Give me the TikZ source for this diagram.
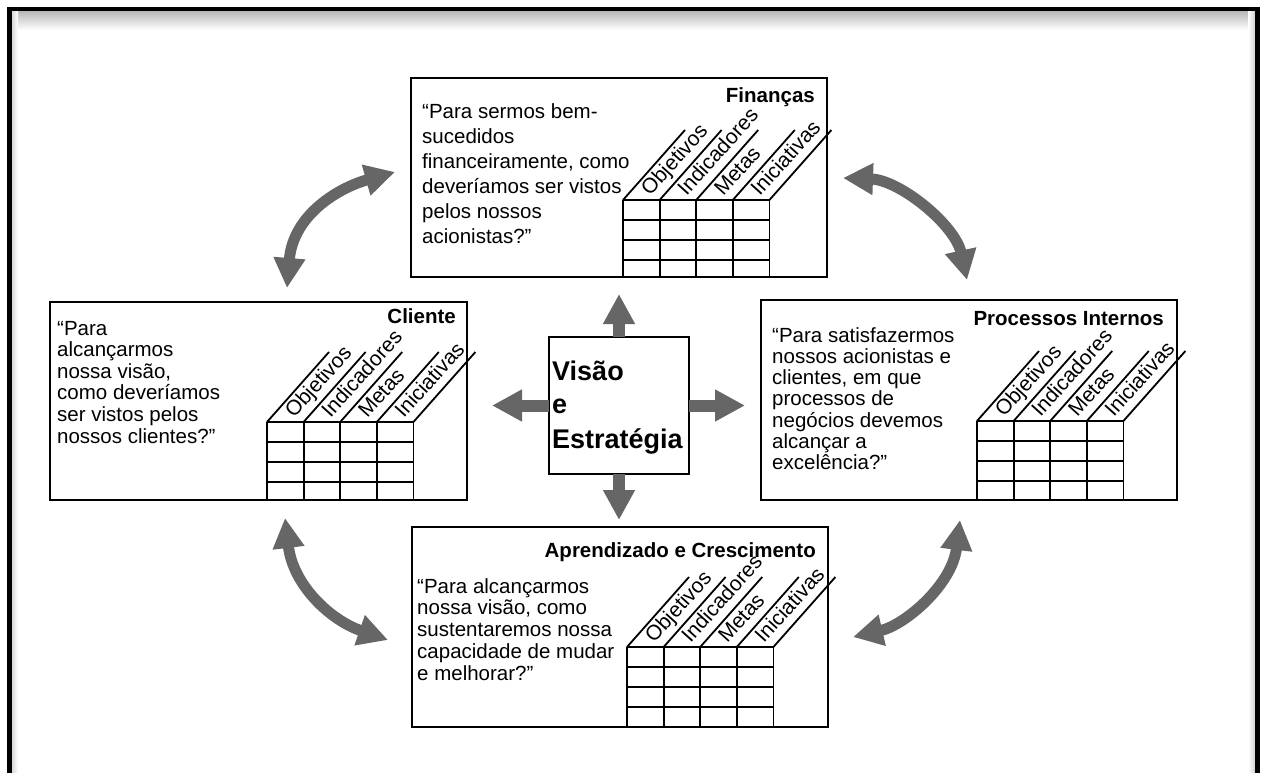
\documentclass[tikz,border=0pt]{standalone}
\usepackage{fontspec}
\setmainfont{Liberation Sans}
\usetikzlibrary{arrows.meta}
\newcommand{\bsctext}[5]{%
  \foreach \ln [count=\i from 0] in {#5} {
    \node[bscbody] (#1-\i) at (#2, {#3+\i*#4}) {\ln};
  }%
}
\newcommand{\bscgrid}[4]{% name, x0, y0, ybottom
  \foreach \k in {0,...,4} {
    \draw[bscgridline] ({#2+\k*36.6},#3) -- ({#2+\k*36.6},#4);
    \draw[bscgridline] ({#2+\k*36.6},#3) -- ++(62,-70);
  }
  \foreach \r in {0,1,2,3} {
    \draw[bscgridline] (#2,{#3+\r*20}) -- ({#2+4*36.6},{#3+\r*20});
  }
  \foreach \lab [count=\k from 0] in {Objetivos,Indicadores,Metas,Iniciativas} {
    \node[bsccol] (#1-col\k) at ({#2+\k*36.6+27},{#3-3}) {\lab};
  }%
}
\begin{document}
\begin{tikzpicture}[x=1pt,y=-1pt,
  bscbox/.style={draw=black, line width=1.3pt, fill=white, inner sep=0pt, outer sep=0pt},
  bscgridline/.style={draw=black, line width=1.8pt},
  bscbody/.style={font=\fontsize{20.5}{24}\selectfont, inner sep=0pt, anchor=base west, text=black},
  bsctitle/.style={font=\fontsize{20.5}{24}\selectfont\bfseries, inner sep=0pt, anchor=base east},
  bsccol/.style={font=\fontsize{21}{24}\selectfont, inner sep=0pt, anchor=base west, rotate=48},
  bsccenter/.style={font=\fontsize{27}{30}\selectfont\bfseries, inner sep=0pt, anchor=base west},
  bsccurvy/.style={line width=11pt, draw=black!60, {Triangle[width=30pt,length=30pt]}-{Triangle[width=30pt,length=30pt]}},
  bscstraight/.style={line width=12pt, draw=black!60, -{Triangle[width=30pt,length=30pt]}},
]
\useasboundingbox (0,0) rectangle (1261,773);
\fill[white] (0,0) rectangle (1261,773);
% frame shadow
\shade[top color=black!28, bottom color=white] (11,11) rectangle (1255,30);
\shade[left color=black!18, right color=white] (11,11) rectangle (18,773);
\shade[left color=white, right color=black!18] (1248,11) rectangle (1255,773);
% outer frame
\draw[line width=4.5pt] (9.25,773) -- (9.25,9.25) -- (1257.5,9.25) -- (1257.5,773);

% boxes
\node[bscbox, minimum width=416pt, minimum height=199pt] (fin) at (619,177.5) {};
\node[bscbox, minimum width=417pt, minimum height=198pt] (cli) at (258.5,401) {};
\node[bscbox, minimum width=416pt, minimum height=200pt] (pro) at (969,400) {};
\node[bscbox, minimum width=416pt, minimum height=200pt] (apr) at (620,627) {};
\node[bscbox, minimum width=140pt, minimum height=137pt] (vis) at (619,405.5) {};

% titles
\node[bsctitle] (fin-t) at (815,103) {Finanças};
\node[bsctitle] (cli-t) at (456,323) {Cliente};
\node[bsctitle] (pro-t) at (1164,325) {Processos Internos};
\node[bsctitle] (apr-t) at (816,557) {Aprendizado e Crescimento};

% body texts
\bsctext{fintx}{422}{119}{24.8}{“Para sermos bem-, sucedidos, {financeiramente, como}, deveríamos ser vistos, pelos nossos, acionistas?”}
\bsctext{clitx}{57}{335}{21.6}{“Para, alcançarmos, {nossa visão,}, como deveríamos, ser vistos pelos, nossos clientes?”}
\bsctext{protx}{772}{342}{21.3}{“Para satisfazermos, nossos acionistas e, {clientes, em que}, processos de, negócios devemos, alcançar a, excelência?”}
\bsctext{aprtx}{417}{593}{21.8}{“Para alcançarmos, {nossa visão, como}, sustentaremos nossa, capacidade de mudar, e melhorar?”}

% grids
\bscgrid{fing}{623}{200}{277}
\bscgrid{clig}{267}{422}{500}
\bscgrid{prog}{977}{421}{500}
\bscgrid{aprg}{627}{647}{727}

% center text
\node[bsccenter] (vis-1) at (552,380) {Visão};
\node[bsccenter] (vis-2) at (552,413) {e};
\node[bsccenter] (vis-3) at (552,448) {Estratégia};

% straight arrows
\coordinate (upTip) at (619,294);
\coordinate (downTip) at (619,520);
\coordinate (leftTip) at (492,405.5);
\coordinate (rightTip) at (745,405.5);
\draw[bscstraight] (vis.north) -- (upTip);
\draw[bscstraight] (vis.south) -- (downTip);
\draw[bscstraight] (vis.west) -- (leftTip);
\draw[bscstraight] (vis.east) -- (rightTip);

% curved arrows
\coordinate (tlA) at (287,288);
\coordinate (tlB) at (395,172);
\coordinate (trA) at (843,178);
\coordinate (trB) at (967,280);
\coordinate (blA) at (285,518);
\coordinate (blB) at (388,640);
\coordinate (brA) at (960,520);
\coordinate (brB) at (853,637);
\draw[bsccurvy] (tlA) .. controls (293,215) and (338,188) .. (tlB);
\draw[bsccurvy] (trA) .. controls (900,180) and (955,225) .. (trB);
\draw[bsccurvy] (blA) .. controls (293,585) and (330,620) .. (blB);
\draw[bsccurvy] (brA) .. controls (952,585) and (905,625) .. (brB);
\end{tikzpicture}
\end{document}
